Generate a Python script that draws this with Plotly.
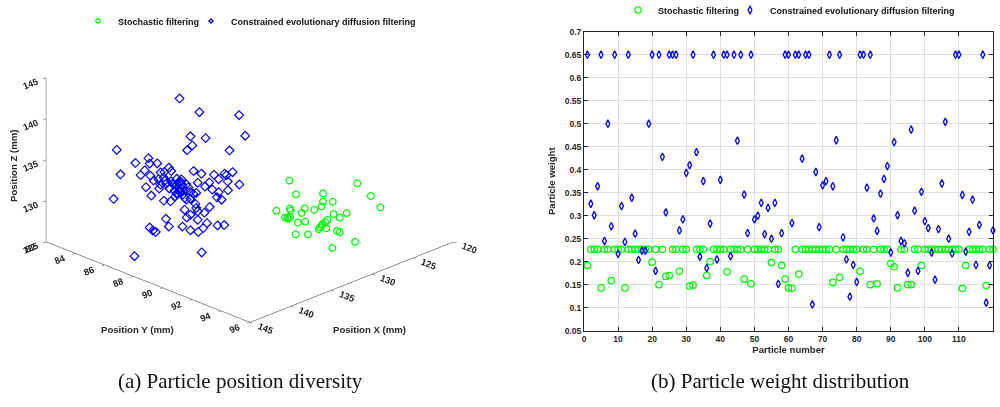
import plotly.graph_objects as go

# ---------------- Panel (b): particle weights ----------------
particle_number = list(range(1, 121))

weight_stochastic = [
    0.192, 0.227, 0.227, 0.227, 0.143, 0.227, 0.227, 0.159, 0.227, 0.227,
    0.227, 0.143, 0.227, 0.227, 0.227, 0.227, 0.227, 0.227, 0.227, 0.199,
    0.227, 0.150, 0.227, 0.168, 0.170, 0.227, 0.227, 0.179, 0.227, 0.227,
    0.147, 0.149, 0.227, 0.227, 0.227, 0.170, 0.200, 0.227, 0.227, 0.227,
    0.227, 0.178, 0.227, 0.227, 0.227, 0.227, 0.162, 0.227, 0.152, 0.227,
    0.227, 0.227, 0.227, 0.227, 0.198, 0.227, 0.227, 0.192, 0.162, 0.143,
    0.142, 0.227, 0.173, 0.227, 0.227, 0.227, 0.227, 0.227, 0.227, 0.227,
    0.227, 0.227, 0.155, 0.227, 0.166, 0.227, 0.227, 0.227, 0.227, 0.227,
    0.179, 0.227, 0.227, 0.150, 0.227, 0.152, 0.227, 0.227, 0.227, 0.196,
    0.189, 0.143, 0.227, 0.227, 0.150, 0.150, 0.227, 0.227, 0.192, 0.227,
    0.227, 0.227, 0.227, 0.227, 0.227, 0.227, 0.227, 0.227, 0.227, 0.227,
    0.142, 0.192, 0.227, 0.227, 0.227, 0.227, 0.227, 0.148, 0.227, 0.227,
]

weight_ced = [
    0.650, 0.326, 0.301, 0.364, 0.650, 0.245, 0.500, 0.277, 0.650, 0.217,
    0.321, 0.243, 0.650, 0.339, 0.261, 0.204, 0.224, 0.224, 0.500, 0.650,
    0.180, 0.650, 0.428, 0.307, 0.650, 0.650, 0.650, 0.268, 0.292, 0.393,
    0.410, 0.650, 0.438, 0.211, 0.375, 0.186, 0.283, 0.650, 0.205, 0.378,
    0.650, 0.650, 0.212, 0.650, 0.463, 0.650, 0.346, 0.262, 0.650, 0.292,
    0.300, 0.328, 0.260, 0.317, 0.250, 0.328, 0.152, 0.262, 0.650, 0.650,
    0.284, 0.650, 0.650, 0.424, 0.650, 0.650, 0.107, 0.395, 0.275, 0.366,
    0.375, 0.650, 0.364, 0.464, 0.650, 0.253, 0.205, 0.124, 0.193, 0.156,
    0.650, 0.650, 0.361, 0.650, 0.294, 0.267, 0.348, 0.380, 0.408, 0.220,
    0.460, 0.301, 0.245, 0.240, 0.176, 0.487, 0.311, 0.180, 0.352, 0.288,
    0.273, 0.220, 0.161, 0.271, 0.370, 0.504, 0.250, 0.218, 0.650, 0.650,
    0.345, 0.222, 0.265, 0.335, 0.193, 0.280, 0.650, 0.111, 0.192, 0.268,
]

weight_ticks = [0.05, 0.1, 0.15, 0.2, 0.25, 0.3, 0.35, 0.4, 0.45, 0.5, 0.55, 0.6, 0.65, 0.7]
weight_tick_text = ["0.05", "0.1", "0.15", "0.2", "0.25", "0.3", "0.35", "0.4",
                    "0.45", "0.5", "0.55", "0.6", "0.65", "0.7"]
number_ticks = [0, 10, 20, 30, 40, 50, 60, 70, 80, 90, 100, 110, 120]

# ---------------- Panel (a): particle positions (mm) ----------------
ced_x = [139.33, 138.11, 135.67, 135.30, 138.66, 137.73, 138.55, 138.86, 136.26, 143.17,
         141.24, 142.03, 141.16, 140.69, 139.98, 139.84, 140.26, 138.46, 137.99, 137.21,
         136.57, 136.45, 136.08, 142.95, 141.71, 141.12, 140.61, 140.23, 139.84, 139.49,
         139.25, 139.19, 140.14, 139.68, 138.21, 136.93, 136.38, 135.65, 141.38, 140.57,
         137.76, 136.36, 139.27, 139.43, 139.59, 139.13, 138.66, 138.48, 138.31, 141.06,
         136.93, 137.03, 136.75, 143.37, 140.29, 139.88, 139.01, 138.90, 138.66, 138.35,
         138.31, 139.02, 138.66, 138.21, 137.80, 137.48, 140.16, 138.88, 138.21, 137.64,
         139.98, 139.15, 137.88, 136.99, 136.59, 141.16, 140.96, 140.79, 138.66, 138.17,
         137.97, 142.09, 140.06, 139.76, 139.51, 139.39, 139.09, 138.96, 139.94, 139.63,
         139.33, 139.21, 138.90, 138.78, 140.49, 140.31, 139.51, 141.46, 140.92, 140.49,
         137.50, 137.32]
ced_y = [87.98, 88.66, 90.02, 90.23, 88.35, 88.87, 88.41, 88.24, 89.69, 85.82,
         86.91, 86.46, 86.95, 87.21, 87.61, 87.69, 87.45, 88.46, 88.73, 89.16,
         89.52, 89.59, 89.80, 85.95, 86.64, 86.98, 87.26, 87.47, 87.69, 87.88,
         88.02, 88.05, 87.52, 87.78, 88.60, 89.32, 89.63, 90.03, 86.82, 87.28,
         88.85, 89.64, 88.01, 87.92, 87.83, 88.09, 88.35, 88.45, 88.55, 87.01,
         89.32, 89.26, 89.42, 85.71, 87.44, 87.67, 88.16, 88.21, 88.35, 88.52,
         88.55, 88.15, 88.35, 88.60, 88.83, 89.01, 87.51, 88.22, 88.60, 88.92,
         87.61, 88.08, 88.79, 89.28, 89.51, 86.95, 87.06, 87.16, 88.35, 88.62,
         88.74, 86.43, 87.57, 87.74, 87.87, 87.94, 88.11, 88.18, 87.63, 87.81,
         87.98, 88.04, 88.21, 88.28, 87.33, 87.43, 87.87, 86.78, 87.09, 87.33,
         89.00, 89.10]
ced_z = [144.45, 142.78, 142.41, 139.90, 139.83, 139.62, 138.72, 138.14, 138.11, 138.18,
         137.16, 136.58, 136.51, 136.54, 136.01, 135.60, 135.47, 135.60, 135.28, 135.15,
         135.28, 135.11, 135.47, 135.19, 135.11, 135.03, 134.61, 134.42, 134.37, 134.66,
         134.29, 133.96, 134.05, 133.96, 134.17, 134.61, 134.33, 133.96, 133.63, 133.47,
         133.72, 133.26, 133.06, 132.82, 132.52, 132.73, 133.06, 132.82, 132.94, 132.61,
         133.02, 132.40, 132.12, 132.20, 131.99, 131.91, 132.33, 132.12, 132.24, 131.59,
         131.10, 130.89, 130.27, 130.68, 130.52, 131.22, 129.78, 129.94, 129.66, 129.25,
         128.84, 128.84, 128.64, 128.96, 129.01, 128.71, 128.34, 128.18, 128.39, 128.18,
         125.69, 125.23, 134.21, 134.09, 133.84, 134.21, 133.59, 133.22, 133.47, 133.22,
         133.35, 134.58, 133.96, 133.59, 133.96, 134.82, 132.86, 135.68, 134.45, 135.44,
         134.21, 133.35]

sto_x = [131.98, 127.81, 131.57, 129.91, 126.98, 129.31, 129.91, 130.00, 126.39, 132.77,
         131.95, 131.04, 130.45, 131.22, 128.46, 129.27, 128.89, 132.24, 132.10, 131.94,
         132.02, 131.45, 131.00, 129.64, 129.78, 129.94, 130.11, 130.17, 129.72, 129.05,
         128.89, 131.59, 130.84, 127.95, 129.33, 131.89, 130.00]
sto_y = [91.39, 93.73, 91.62, 92.55, 94.19, 92.88, 92.55, 92.50, 94.52, 90.95,
         91.41, 91.92, 92.25, 91.82, 93.36, 92.91, 93.12, 91.24, 91.32, 91.42,
         91.37, 91.69, 91.94, 92.70, 92.62, 92.53, 92.44, 92.41, 92.66, 93.03,
         93.12, 91.61, 92.03, 93.65, 92.87, 91.44, 92.50]
sto_z = [133.95, 133.62, 132.27, 132.39, 132.07, 131.37, 131.37, 130.80, 130.67, 130.27,
         130.55, 130.55, 130.39, 130.02, 129.98, 129.86, 129.44, 129.44, 129.44, 129.49,
         129.28, 128.83, 128.95, 129.16, 128.88, 128.63, 128.26, 128.02, 128.14, 127.81,
         127.65, 127.40, 127.40, 126.49, 125.72, 130.30, 128.46]

x3_ticks = [120, 125, 130, 135, 140, 145]
y3_ticks = [82, 84, 86, 88, 90, 92, 94, 96]
z3_ticks = [125, 130, 135, 140, 145]

GREEN = "#00ff00"
BLUE = "#0000ff"
AX = "#262626"
FONT = "Liberation Sans"

fig = go.Figure()

# 3D traces
fig.add_trace(go.Scatter3d(
    x=sto_x, y=sto_y, z=sto_z, mode="markers", name="Stochastic filtering",
    marker=dict(symbol="circle-open", size=4.2, color=GREEN, line=dict(color=GREEN, width=1.3)),
    legend="legend", showlegend=True))
fig.add_trace(go.Scatter3d(
    x=ced_x, y=ced_y, z=ced_z, mode="markers", name="Constrained evolutionary diffusion filtering",
    marker=dict(symbol="diamond-open", size=3.2, color=BLUE, line=dict(color=BLUE, width=1.3)),
    legend="legend3", showlegend=True))

# 2D traces
fig.add_trace(go.Scatter(
    x=particle_number, y=weight_stochastic, mode="markers", name="Stochastic filtering",
    marker=dict(symbol="circle-open", size=6.5, color=GREEN, line=dict(color=GREEN, width=1.2)),
    xaxis="x", yaxis="y", legend="legend2", cliponaxis=False, showlegend=True))
fig.add_trace(go.Scatter(
    x=particle_number, y=weight_ced, mode="markers", name="Constrained evolutionary diffusion filtering",
    marker=dict(symbol="diamond-tall-open", size=5.5, color=BLUE, line=dict(color=BLUE, width=1.3)),
    xaxis="x", yaxis="y", legend="legend4", cliponaxis=False, showlegend=True))

axis3 = dict(showbackground=False, showgrid=False, zeroline=False, showline=True,
             linecolor=AX, linewidth=1, ticks="outside", ticklen=4, tickcolor=AX,
             showspikes=False, title=dict(text=""),
             tickfont=dict(family=FONT, size=10.5, color=AX, weight="bold"))
title_font = dict(family=FONT, size=9.6, color=AX, weight="bold")
caption_font = dict(family="Liberation Serif", size=21, color="#111")
legend_font = dict(family=FONT, size=9, color="#111", weight="bold")


def one_legend(x_px, y_px):
    return dict(orientation="h", x=x_px / 1000, y=1 - y_px / 407, xanchor="left",
                yanchor="middle", font=legend_font, bgcolor="rgba(0,0,0,0)", itemwidth=30,
                visible=True)


fig.update_layout(
    width=1000, height=407,
    showlegend=True,
    margin=dict(l=0, r=0, t=0, b=0, autoexpand=False),
    paper_bgcolor="white", plot_bgcolor="white",
    font=dict(family=FONT, color=AX),
    scene=dict(
        domain=dict(x=[0.0, 0.5], y=[0.12, 1.0]),
        xaxis=dict(axis3, range=[120, 145], tickvals=x3_ticks),
        yaxis=dict(axis3, range=[82, 96], tickvals=y3_ticks),
        zaxis=dict(axis3, range=[125, 145], tickvals=z3_ticks),
        aspectmode="manual", aspectratio=dict(x=1.611, y=1.611, z=0.998),
        camera=dict(eye=dict(x=2.2, y=2.2, z=1.221), center=dict(x=0, y=0, z=-0.117),
                    up=dict(x=0, y=0, z=1), projection=dict(type="orthographic")),
        bgcolor="white",
    ),
    xaxis=dict(domain=[0.584, 0.993], range=[0, 120], tickvals=number_ticks,
               showgrid=True, gridcolor="#dfdfdf", zeroline=False,
               showline=True, linecolor=AX, linewidth=1, mirror="allticks",
               ticks="inside", ticklen=4, tickcolor=AX,
               tickfont=dict(family=FONT, size=8.5, color=AX, weight="bold"),
               title=dict(text="Particle number", standoff=1, font=title_font)),
    yaxis=dict(domain=[0.1875, 0.9221], range=[0.05, 0.7], tickvals=weight_ticks,
               ticktext=weight_tick_text,
               showgrid=True, gridcolor="#dfdfdf", zeroline=False,
               showline=True, linecolor=AX, linewidth=1, mirror="allticks",
               ticks="inside", ticklen=4, tickcolor=AX,
               tickfont=dict(family=FONT, size=8.5, color=AX, weight="bold"),
               title=dict(text="Particle weight", standoff=7, font=title_font)),
    legend=one_legend(78, 21),
    legend3=one_legend(191, 21),
    legend2=one_legend(618, 10),
    legend4=one_legend(730, 10),
    annotations=[
        dict(text="Position Y (mm)", x=137 / 1000, y=1 - 329 / 407, xref="paper", yref="paper",
             xanchor="center", yanchor="middle", showarrow=False, font=title_font),
        dict(text="Position X (mm)", x=369 / 1000, y=1 - 329 / 407, xref="paper", yref="paper",
             xanchor="center", yanchor="middle", showarrow=False, font=title_font),
        dict(text="Position Z (mm)", x=14 / 1000, y=1 - 166 / 407, xref="paper", yref="paper",
             xanchor="center", yanchor="middle", showarrow=False, textangle=-90, font=title_font),
        dict(text="(a) Particle position diversity", x=0.2405, y=1 - 381 / 407,
             xref="paper", yref="paper", xanchor="center", yanchor="middle",
             showarrow=False, font=caption_font),
        dict(text="(b) Particle weight distribution", x=0.78, y=1 - 381 / 407,
             xref="paper", yref="paper", xanchor="center", yanchor="middle",
             showarrow=False, font=caption_font),
    ],
)

fig.write_html("out.html", config={"displayModeBar": False},
               post_script="document.body.style.margin='0px';")
